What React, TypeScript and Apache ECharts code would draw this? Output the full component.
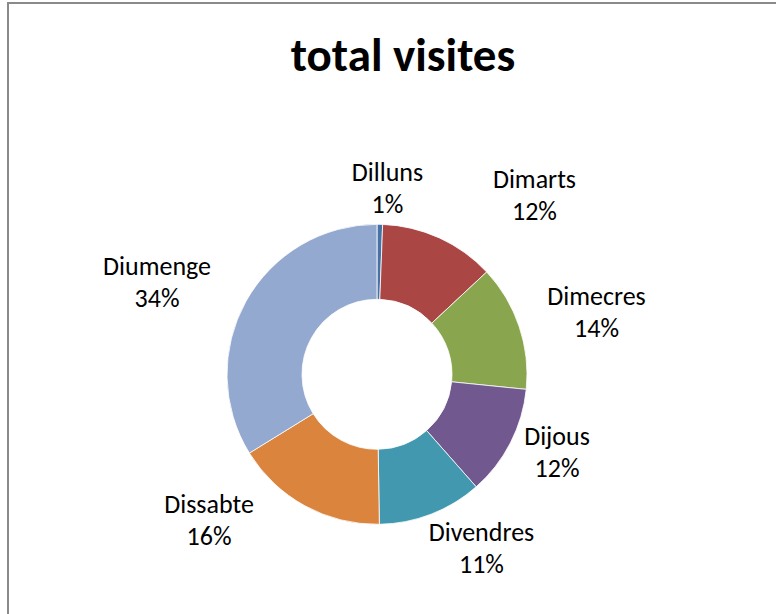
import React, { useEffect, useRef } from "react";
import * as echarts from "echarts";

const categories = ["Dilluns", "Dimarts", "Dimecres", "Dijous", "Divendres", "Dissabte", "Diumenge"];
const visitShare = [0.6, 12.45, 13.55, 11.9, 11.25, 16.45, 33.8];
const sliceColors = ["#4572A7", "#AA4643", "#89A54E", "#71588F", "#4198AF", "#DB843D", "#93A9CF"];
// label nudges (px) relative to an anchor on the slice mid-angle
const labelNudges: [number, number][] = [
  [6.7, 13.2],
  [74.3, 2.1],
  [30, 1.6],
  [2.1, -13.7],
  [32.3, -12.8],
  [-71.9, -29.7],
  [-45.3, 5.2],
];

const CX = 377;
const CY = 374.3;
const R_OUT = 150;
const R_IN = 75;
const LABEL_R = 200;
const FONT = "Carlito, Lato, 'Open Sans', sans-serif";

export default function App() {
  const ref = useRef<HTMLDivElement>(null);
  useEffect(() => {
    if (!ref.current) return;
    const chart = echarts.init(ref.current, undefined, { renderer: "svg" });
    const total = visitShare.reduce((a, b) => a + b, 0);
    const mids: number[] = [];
    let acc = 0;
    visitShare.forEach((v) => {
      mids.push(((acc + v / 2) / total) * Math.PI * 2);
      acc += v;
    });
    chart.setOption({
      animation: false,
      backgroundColor: "#ffffff",
      title: {
        text: "total visites",
        left: 398,
        top: 26,
        textAlign: "center",
        textStyle: { fontFamily: FONT, fontWeight: "bold", fontSize: 47, color: "#000" },
      },
      graphic: [
        {
          type: "rect",
          shape: { x: 8, y: 3, width: 800, height: 700 },
          style: { fill: "none", stroke: "#8a8a8a", lineWidth: 2 },
          silent: true,
        },
      ],
      series: [
        {
          type: "pie",
          center: [CX, CY],
          radius: [R_IN, R_OUT],
          startAngle: 90,
          clockwise: true,
          percentPrecision: 0,
          avoidLabelOverlap: false,
          itemStyle: { borderColor: "#ffffff", borderWidth: 0.8 },
          label: {
            show: true,
            position: "outside",
            formatter: "{b}\n{d}%",
            fontFamily: FONT,
            fontSize: 26,
            lineHeight: 32,
            color: "#000",
            align: "center",
          },
          labelLine: { show: false },
          labelLayout: (params: any) => {
            const i = params.dataIndex;
            const a = mids[i];
            const n = labelNudges[i];
            return {
              x: CX + LABEL_R * Math.sin(a) + n[0],
              y: CY - LABEL_R * Math.cos(a) + n[1],
              align: "center",
              verticalAlign: "middle",
            };
          },
          emphasis: { disabled: true },
          data: categories.map((c, i) => ({
            name: c,
            value: visitShare[i],
            itemStyle: { color: sliceColors[i] },
          })),
        },
      ],
    });
    return () => chart.dispose();
  }, []);
  return (
    <div
      ref={ref}
      style={{ position: "fixed", left: 0, top: 0, width: 776, height: 614 }}
    />
  );
}
